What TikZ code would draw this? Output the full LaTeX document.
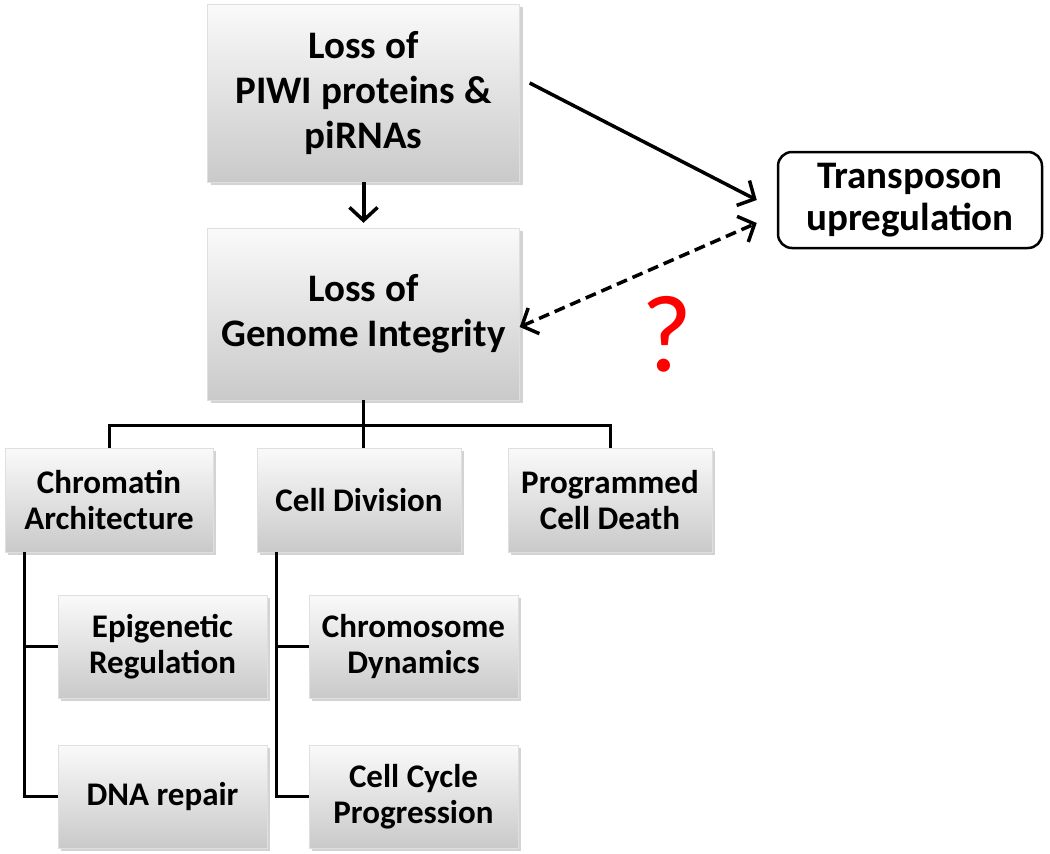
\documentclass[tikz,border=0pt]{standalone}
\usepackage{fontspec}
\setmainfont{Carlito}
\usetikzlibrary{arrows.meta,shadows}

\begin{document}
\begin{tikzpicture}[x=1pt,y=-1pt,
    box/.style={top color=gray!4,bottom color=gray!42,draw=gray!25,thin,
      drop shadow={shadow xshift=3pt,shadow yshift=-3pt,opacity=0.35},
      align=center,inner sep=0pt,font=\bfseries\fontsize{33}{36}\selectfont},
    bigbox/.style={box,font=\bfseries\fontsize{39}{45}\selectfont},
    barb/.tip={Straight Barb[length=13pt,width=28pt,line width=3.5pt]},
    link/.style={line width=3.5pt,-barb},
    tree/.style={line width=3pt}]
      \useasboundingbox (0,0) rectangle (1050,854);
      \node[bigbox,minimum width=312pt,minimum height=178pt] (piwi) at (363.5,93) {Loss of\\PIWI proteins \&\\piRNAs};
      \node[bigbox,minimum width=312pt,minimum height=172pt] (genome) at (363.5,314) {Loss of\\Genome Integrity};
      \node[draw,line width=2.5pt,rounded corners=14pt,fill=white,minimum width=264pt,minimum height=96pt,align=center,
        font=\bfseries\fontsize{39}{42}\selectfont] (transp) at (910,200) {Transposon\\upregulation};
      \node[box,minimum width=208pt,minimum height=104pt] (chrom) at (109,500) {Chromatin\\Architecture};
      \node[box,minimum width=204pt,minimum height=104pt] (celldiv) at (359,500) {Cell Division};
      \node[box,minimum width=204pt,minimum height=104pt] (pcd) at (610,500) {Programmed\\Cell Death};
      \node[box,minimum width=209pt,minimum height=103pt] (epi) at (162.5,646.5) {Epigenetic\\Regulation};
      \node[box,minimum width=209pt,minimum height=103pt] (dna) at (162.5,796.5) {DNA repair};
      \node[box,minimum width=209pt,minimum height=103pt] (chromdyn) at (413.5,646.5) {Chromosome\\Dynamics};
      \node[box,minimum width=209pt,minimum height=103pt] (cycle) at (413.5,796.5) {Cell Cycle\\Progression};
      \node[text=red,font=\fontsize{110}{110}\selectfont] (qmark) at (667,334) {?};
      \draw[link,line width=4pt] (piwi.south) -- ([yshift=5pt]genome.north);
      \draw[link] ([shift={(10pt,10pt)}]piwi.east) -- ([xshift=-20pt]transp.west);
      \draw[link,barb-barb,dash pattern=on 11pt off 6pt]
        ([yshift=-13pt]genome.east) -- ([shift={(-20pt,-23pt)}]transp.west);
      \draw[tree] (genome.south) -- ++(0,25) coordinate (bar);
      \draw[tree] (chrom.north) |- (bar) -| (pcd.north);
      \draw[tree] (bar) -- (bar |- celldiv.north);
      \foreach \s/\a/\b in {chrom/epi/dna,celldiv/chromdyn/cycle} {
        \draw[tree] ([xshift=20pt]\s.south west) |- (\a.west);
        \draw[tree] ([xshift=20pt]\s.south west) |- (\b.west);
      }
\end{tikzpicture}
\end{document}
